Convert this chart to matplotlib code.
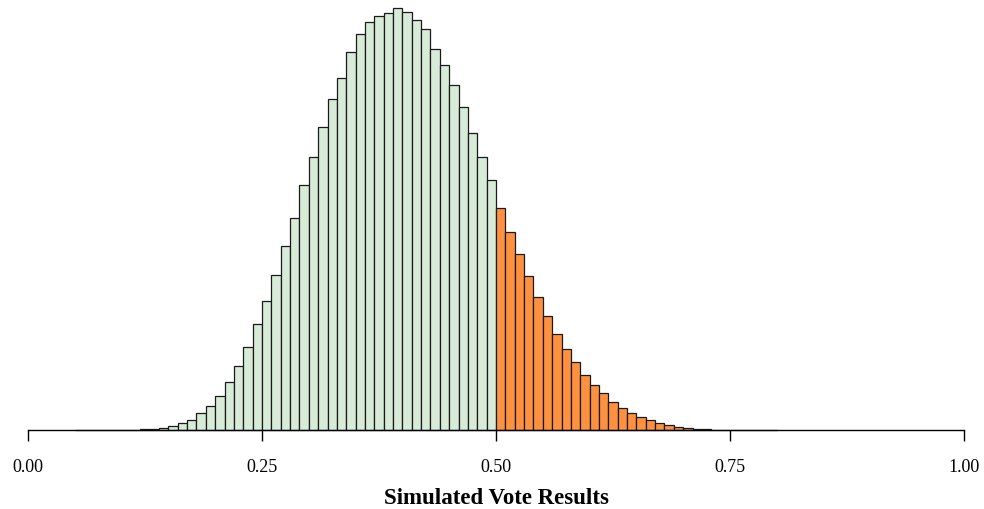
import numpy as np
import matplotlib
matplotlib.use("Agg")
import matplotlib.pyplot as plt

# --- data: histogram of simulated vote shares (bin width 0.01) -------------
bin_left = np.round(np.arange(0.05, 0.80, 0.01), 2)
counts = [
    0, 0, 0, 0, 0,                              # 0.05 - 0.09
    1, 3, 7, 13, 23,                            # 0.10 - 0.14
    40, 70, 105, 170, 243,                      # 0.15 - 0.19
    343, 480, 643, 833, 1060,                   # 0.20 - 0.24
    1293, 1550, 1843, 2120, 2450,               # 0.25 - 0.29
    2733, 3030, 3313, 3523, 3777,               # 0.30 - 0.34
    3963, 4077, 4143, 4167, 4220,               # 0.35 - 0.39
    4177, 4103, 4013, 3807, 3653,               # 0.40 - 0.44
    3450, 3227, 2967, 2733, 2503,               # 0.45 - 0.49
    2220, 1977, 1757, 1543, 1333,               # 0.50 - 0.54
    1140, 957, 813, 680, 553,                   # 0.55 - 0.59
    453, 367, 283, 223, 173,                    # 0.60 - 0.64
    133, 100, 67, 47, 30,                       # 0.65 - 0.69
    20, 13, 8, 5, 3,                            # 0.70 - 0.74
    2, 1, 1, 0, 0,                              # 0.75 - 0.79
]
threshold = 0.50
tick_values = [0.0, 0.25, 0.5, 0.75, 1.0]
tick_labels = ["0.00", "0.25", "0.50", "0.75", "1.00"]
xlabel = "Simulated Vote Results"

GREEN = "#d8ebd8"
ORANGE = "#fd9140"

plt.rcParams["font.family"] = ["Liberation Serif", "DejaVu Serif"]

fig = plt.figure(figsize=(9.84, 5.10), dpi=100)
ax = fig.add_axes([28 / 984, 79 / 510, 936 / 984, 431 / 510])

colors = [ORANGE if b >= threshold - 1e-9 else GREEN for b in bin_left]
ax.bar(bin_left, counts, width=0.01, align="edge", color=colors,
       edgecolor="#1a1a1a", linewidth=0.9, clip_on=False)

ax.set_xlim(0, 1)
ax.set_ylim(0, max(counts) * 431 / 422)

for side in ("top", "right", "left"):
    ax.spines[side].set_visible(False)
ax.spines["bottom"].set_linewidth(1.0)
ax.set_yticks([])
ax.set_xticks(tick_values)
ax.set_xticklabels(tick_labels)
ax.tick_params(axis="x", direction="out", length=8, width=1.0,
               labelsize=13, pad=12)
ax.set_xlabel(xlabel, fontsize=16.5, fontweight="bold", labelpad=9)

fig.savefig("out.png", dpi=100)
